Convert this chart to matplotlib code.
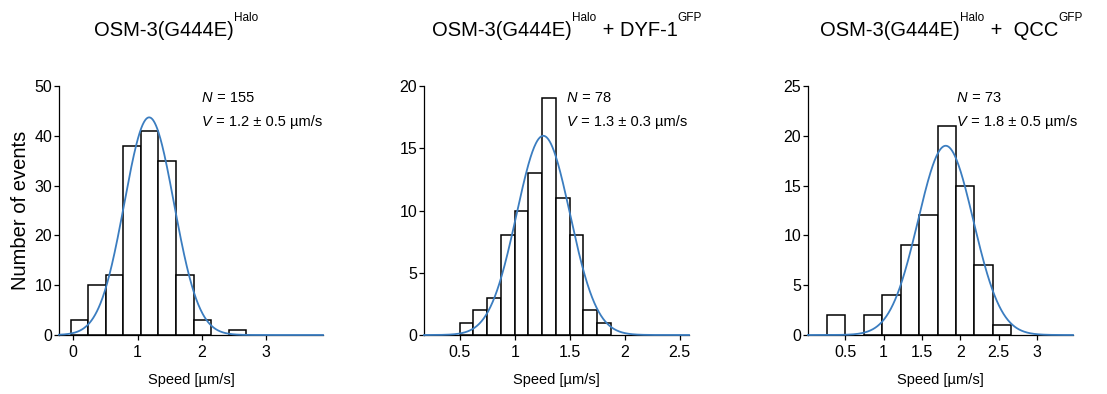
import numpy as np
import matplotlib
matplotlib.use("Agg")
import matplotlib.pyplot as plt

plt.rcParams['font.family'] = ['Liberation Sans', 'DejaVu Sans']

# ---------------- data ----------------
counts1 = [3, 10, 12, 38, 41, 35, 12, 3, 0, 1]
bin_start1, bin_width1 = -0.04, 0.273
fit1 = dict(amp=43.7, mean=1.18, sigma=0.385)

counts2 = [1, 2, 3, 8, 10, 13, 19, 11, 8, 2, 1]
bin_start2, bin_width2 = 0.5, 0.125
fit2 = dict(amp=16.0, mean=1.26, sigma=0.243)

counts3 = [2, 0, 2, 4, 9, 12, 21, 15, 7, 1]
bin_start3, bin_width3 = 0.257, 0.241
fit3 = dict(amp=19.0, mean=1.81, sigma=0.36)

annot_N = ["155", "78", "73"]
annot_V = ["1.2 \u00b1 0.5 \u00b5m/s", "1.3 \u00b1 0.3 \u00b5m/s", "1.8 \u00b1 0.5 \u00b5m/s"]

titles = [
    [("OSM-3(G444E)", False), ("Halo", True)],
    [("OSM-3(G444E)", False), ("Halo", True), (" + DYF-1", False), ("GFP", True)],
    [("OSM-3(G444E)", False), ("Halo", True), (" +  QCC", False), ("GFP", True)],
]

xticks = [[0, 1, 2, 3], [0.5, 1, 1.5, 2, 2.5], [0.5, 1, 1.5, 2, 2.5, 3]]
xticklabels = [["0", "1", "2", "3"], ["0.5", "1", "1.5", "2", "2.5"],
               ["0.5", "1", "1.5", "2", "2.5", "3"]]
yticks = [list(range(0, 51, 10)), list(range(0, 21, 5)), list(range(0, 26, 5))]
xlims = [(-0.22, 3.88), (0.175, 2.585), (0.014, 3.47)]
ylims = [(0, 50), (0, 20), (0, 25)]

# ---------------- figure ----------------
W, H = 1107, 394
fig = plt.figure(figsize=(W / 100, H / 100), dpi=100)

def px_rect(l, r, t, b):
    return [l / W, 1 - b / H, (r - l) / W, (b - t) / H]

rects = [px_rect(59, 323, 86, 335), px_rect(424, 689, 86, 335), px_rect(808, 1073, 86, 335)]
annot_x = [202, 567, 957]
title_x = [94, 432, 820]

blue = '#3b7dc0'
datasets = [(counts1, bin_start1, bin_width1, fit1),
            (counts2, bin_start2, bin_width2, fit2),
            (counts3, bin_start3, bin_width3, fit3)]

for i, (counts, start, width, fit) in enumerate(datasets):
    ax = fig.add_axes(rects[i])
    lefts = start + width * np.arange(len(counts))
    c = np.array(counts)
    m = c > 0
    ax.bar(lefts[m], c[m], width=width, align='edge', facecolor='white',
           edgecolor='black', linewidth=1.1, zorder=2, clip_on=False)
    xs = np.linspace(xlims[i][0], xlims[i][1], 600)
    ys = fit['amp'] * np.exp(-(xs - fit['mean']) ** 2 / (2 * fit['sigma'] ** 2))
    ax.plot(xs, ys, color=blue, lw=1.3, zorder=4, clip_on=False)
    ax.set_xlim(*xlims[i])
    ax.set_ylim(*ylims[i])
    ax.set_xticks(xticks[i])
    ax.set_xticklabels(xticklabels[i])
    ax.set_yticks(yticks[i])
    for s in ['top', 'right']:
        ax.spines[s].set_visible(False)
    for s in ['left', 'bottom']:
        ax.spines[s].set_linewidth(0.9)
        ax.spines[s].set_zorder(3)
    ax.tick_params(axis='both', direction='out', length=3.5, width=0.9,
                   labelsize=11.5, pad=1.5)
    ax.tick_params(axis='x', pad=4)
    ax.set_xlabel("Speed [\u00b5m/s]", fontsize=10.5, labelpad=9)
    if i == 0:
        ax.set_ylabel("Number of events", fontsize=14.5, labelpad=3)

fig.canvas.draw()
renderer = fig.canvas.get_renderer()

# annotation text: italic letter followed by the rest
for i in range(3):
    for (letter, rest, yc) in [("N", " = " + annot_N[i], 98), ("V", " = " + annot_V[i], 122)]:
        t = fig.text(annot_x[i] / W, 1 - yc / H, letter, style='italic', fontsize=10.5,
                     va='center')
        bb = t.get_window_extent(renderer)
        fig.text(bb.x1 / W, 1 - yc / H, rest, fontsize=10.5, va='center')

# titles with superscripts
main_base = 1 - 36 / H
sup_base = 1 - 21 / H
for i in range(3):
    x = title_x[i]
    for text, sup in titles[i]:
        if sup:
            t = fig.text(x / W, sup_base, text, fontsize=8.5, va='baseline')
        else:
            t = fig.text(x / W, main_base, text, fontsize=14.5, va='baseline')
        bb = t.get_window_extent(renderer)
        x = bb.x1 + (1 if sup else 0)

fig.savefig("out.png", dpi=100)
